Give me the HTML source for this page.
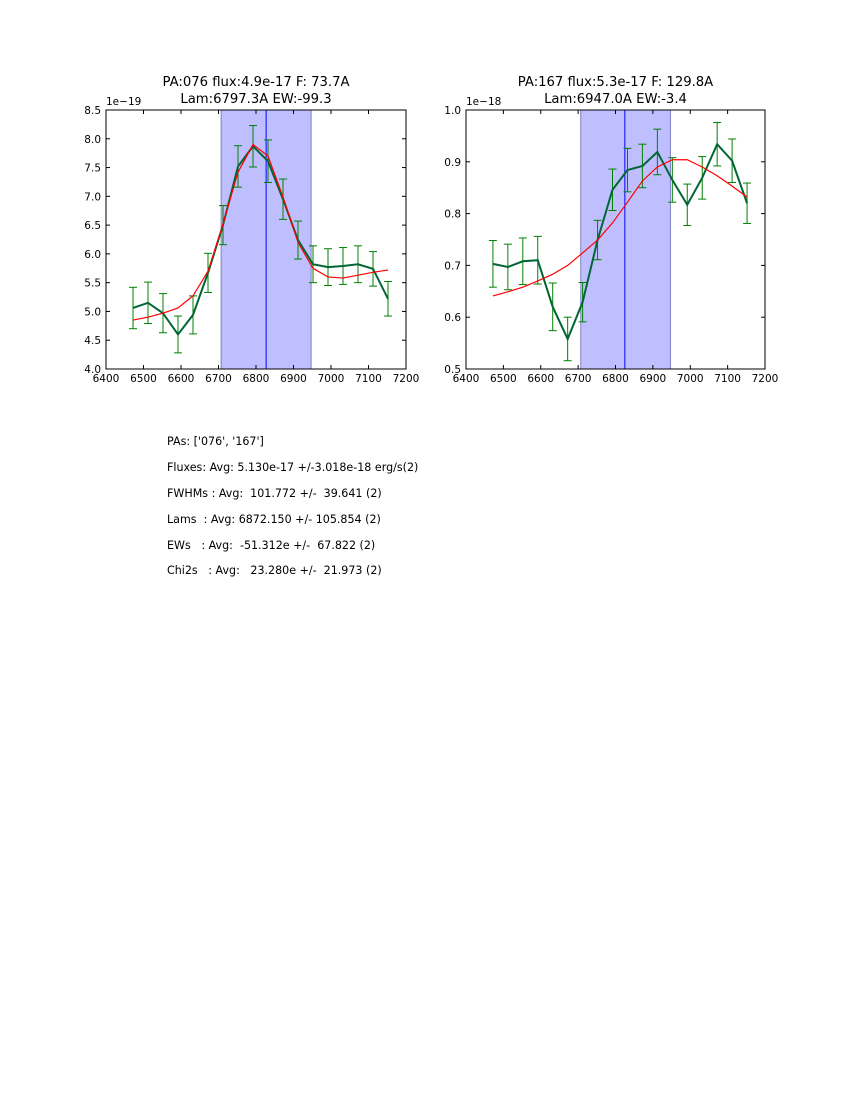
<!DOCTYPE html>
<html><head><meta charset="utf-8"><style>
html,body{margin:0;padding:0;background:#fff;}
body{width:850px;height:1100px;position:relative;overflow:hidden;font-family:"DejaVu Sans","Liberation Sans",sans-serif;}
.t{position:absolute;font-size:11.1px;color:#000;white-space:pre;}
</style></head><body>
<svg id="fig" width="850" height="1100" style="position:absolute;left:0;top:0" font-family="DejaVu Sans, Liberation Sans, sans-serif"></svg>
<div>
<div class="t" style="left:167px;top:435px">PAs: ['076', '167']</div>
<div class="t" style="left:167px;top:461px">Fluxes: Avg: 5.130e-17 +/-3.018e-18 erg/s(2)</div>
<div class="t" style="left:167px;top:487px">FWHMs : Avg:  101.772 +/-  39.641 (2)</div>
<div class="t" style="left:167px;top:513px">Lams  : Avg: 6872.150 +/- 105.854 (2)</div>
<div class="t" style="left:167px;top:539px">EWs   : Avg:  -51.312e +/-  67.822 (2)</div>
<div class="t" style="left:167px;top:564px">Chi2s   : Avg:   23.280e +/-  21.973 (2)</div>
</div>
<script>
const wavelengths=[6472,6512,6552,6592,6632,6672,6712,6752,6792,6832,6872,6912,6952,6992,7032,7072,7112,7152];
const fluxA=[5.06,5.15,4.97,4.60,4.94,5.67,6.50,7.52,7.87,7.61,6.95,6.24,5.82,5.77,5.79,5.82,5.74,5.22];
const errA=[0.36,0.36,0.34,0.32,0.33,0.34,0.34,0.36,0.36,0.37,0.35,0.33,0.32,0.32,0.32,0.32,0.30,0.30];
const fitA=[4.85,4.90,4.97,5.06,5.27,5.70,6.52,7.42,7.90,7.70,6.99,6.20,5.75,5.60,5.58,5.63,5.68,5.72];
const fluxB=[0.703,0.697,0.708,0.710,0.620,0.558,0.629,0.749,0.846,0.884,0.892,0.919,0.865,0.817,0.869,0.934,0.902,0.820];
const errB=[0.045,0.044,0.045,0.046,0.046,0.042,0.038,0.038,0.040,0.042,0.042,0.044,0.043,0.040,0.041,0.042,0.042,0.039];
const fitB=[0.641,0.649,0.658,0.670,0.683,0.700,0.724,0.749,0.782,0.822,0.863,0.890,0.904,0.904,0.890,0.873,0.853,0.832];
const xTicks=[6400,6500,6600,6700,6800,6900,7000,7100,7200];
const yTicksA=[4.0,4.5,5.0,5.5,6.0,6.5,7.0,7.5,8.0,8.5];
const yTicksB=[0.5,0.6,0.7,0.8,0.9,1.0];
const spanA=[6707,6947], lineA=6827, spanB=[6707,6947], lineB=6825;

const svg=document.getElementById('fig');
const NS='http://www.w3.org/2000/svg';
function mk(tag,attrs,parent){const e=document.createElementNS(NS,tag);for(const k in attrs)e.setAttribute(k,attrs[k]);(parent||svg).appendChild(e);return e;}

function panel(id,L,R,T,B,ymin,ymax,yTicks,yfmt,flux,err,fit,span,vline,t1,t2,exp){
  const g=mk('g',{});
  
  
  const xs=v=>L+(v-6400)/(7200-6400)*(R-L);
  const ys=v=>B-(v-ymin)/(ymax-ymin)*(B-T);
  const sp=mk('rect',{x:xs(span[0]),y:T,width:xs(span[1])-xs(span[0]),height:B-T,fill:'#bfbfff',stroke:'#8080c0','stroke-width':1},g);
  
  
  const vl=mk('line',{x1:xs(vline),x2:xs(vline),y1:T,y2:B,stroke:'#0000ff','stroke-width':1},g);
  
  
  const eg=mk('g',{stroke:'#008000','stroke-width':1},g);
  
  
  wavelengths.forEach((w,i)=>{
    const x=xs(w),y1=ys(flux[i]-err[i]),y2=ys(flux[i]+err[i]);
    mk('line',{x1:x,x2:x,y1:y1,y2:y2},eg);
    mk('line',{x1:x-4,x2:x+4,y1:y1,y2:y1},eg);
    mk('line',{x1:x-4,x2:x+4,y1:y2,y2:y2},eg);
  });
  const dp=mk('polyline',{points:wavelengths.map((w,i)=>xs(w)+','+ys(flux[i])).join(' '),fill:'none',stroke:'#006633','stroke-width':2},g);
  
  
  const fp=mk('polyline',{points:wavelengths.map((w,i)=>xs(w)+','+ys(fit[i])).join(' '),fill:'none',stroke:'#ff0000','stroke-width':1.2},g);
  
  
  const fr=mk('rect',{x:L,y:T,width:R-L,height:B-T,fill:'none',stroke:'#000','stroke-width':1},g);
  
  
  const tg=mk('g',{stroke:'#000','stroke-width':1},g);
  const lg=mk('g',{'font-size':'10.5',fill:'#000'},g);
  
  
  xTicks.forEach(v=>{const x=xs(v);
    mk('line',{x1:x,x2:x,y1:B,y2:B-4},tg);mk('line',{x1:x,x2:x,y1:T,y2:T+4},tg);
    const t=mk('text',{x:x,y:B+13,'text-anchor':'middle'},lg);t.textContent=v;});
  yTicks.forEach(v=>{const y=ys(v);
    mk('line',{x1:L,x2:L+4,y1:y,y2:y},tg);mk('line',{x1:R,x2:R-4,y1:y,y2:y},tg);
    const t=mk('text',{x:L-5,y:y+4,'text-anchor':'end'},lg);t.textContent=yfmt(v);});
  const ex=mk('text',{x:L,y:T-5,'font-size':'10.5'},g);ex.textContent=exp;
  
  
  const c=(L+R)/2;
  const a=mk('text',{x:c,y:T-24,'text-anchor':'middle','font-size':'13.2'},g);a.textContent=t1;
  
  
  const b=mk('text',{x:c,y:T-7,'text-anchor':'middle','font-size':'13.2'},g);b.textContent=t2;
  
  
}
panel('panel-pa076',106,406,110,369,4.0,8.5,yTicksA,v=>v.toFixed(1),fluxA,errA,fitA,spanA,lineA,'PA:076 flux:4.9e-17 F: 73.7A','Lam:6797.3A EW:-99.3','1e\u221219');
panel('panel-pa167',466,765,110,369,0.5,1.0,yTicksB,v=>v.toFixed(1),fluxB,errB,fitB,spanB,lineB,'PA:167 flux:5.3e-17 F: 129.8A','Lam:6947.0A EW:-3.4','1e\u221218');
</script>
</body></html>
